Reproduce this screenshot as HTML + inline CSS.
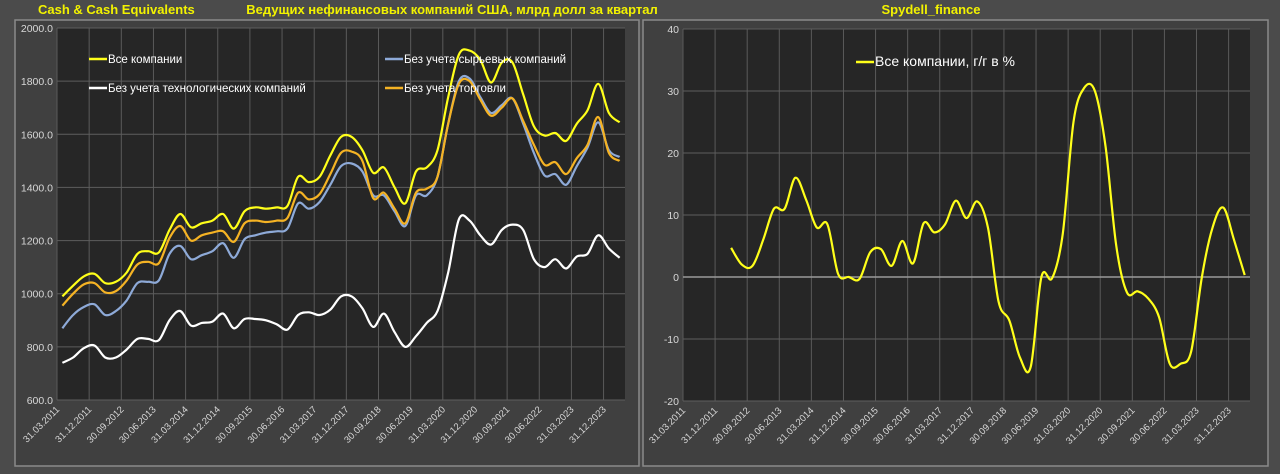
<!DOCTYPE html>
<html><head><meta charset="utf-8">
<style>
html,body{margin:0;padding:0;background:#4b4b4b;width:1280px;height:474px;overflow:hidden;font-family:"Liberation Sans",sans-serif;}
svg{display:block}
</style></head>
<body>
<svg id="chart" width="1280" height="474" xmlns="http://www.w3.org/2000/svg"></svg>
<script>
const categories = [];
for (let y = 2011; y <= 2024; y++) for (const q of ['31.03','30.06','30.09','31.12']) if (categories.length < 53) categories.push(q + '.' + y);
const allCompanies = [990,1030,1065,1075,1040,1045,1080,1150,1160,1155,1240,1300,1250,1265,1275,1300,1245,1310,1325,1320,1325,1330,1440,1420,1440,1520,1590,1590,1540,1455,1475,1400,1340,1460,1475,1540,1740,1900,1915,1880,1795,1870,1870,1750,1630,1595,1605,1575,1640,1690,1790,1680,1645];
const exCommodities = [870,920,950,960,920,935,975,1040,1045,1050,1150,1180,1130,1145,1160,1190,1135,1205,1220,1230,1235,1245,1340,1320,1345,1410,1480,1490,1460,1370,1370,1310,1255,1370,1370,1440,1640,1800,1810,1740,1680,1710,1735,1640,1530,1445,1450,1410,1480,1550,1645,1540,1515];
const exTrade = [955,1000,1035,1040,1005,1010,1050,1110,1120,1115,1210,1255,1200,1220,1230,1235,1195,1265,1275,1270,1275,1285,1380,1355,1375,1450,1530,1535,1500,1360,1380,1320,1265,1380,1395,1440,1640,1790,1800,1730,1670,1700,1735,1650,1560,1485,1495,1450,1510,1560,1665,1530,1500];
const exTech = [740,760,795,805,760,760,790,830,830,825,900,935,880,890,895,925,870,905,905,900,885,865,920,930,920,940,990,990,945,875,925,855,800,840,890,935,1080,1280,1275,1220,1185,1240,1260,1240,1130,1100,1130,1095,1140,1150,1220,1170,1135];
const yoyStart = 4;
const yoy = [4.7,2.0,1.8,6,11,11,16,12.5,8,8.5,0.5,0,-0.3,4,4.5,1.8,5.8,2.2,8.7,7.2,8.5,12.3,9.5,12.2,8,-4,-7,-13,-14.5,0,-0.2,7,25,30.5,30,21,5,-2.5,-2.3,-3.5,-6.5,-14,-14,-12,0,8,11.2,6,0.3];
const leftTicks = [600,800,1000,1200,1400,1600,1800,2000];
const rightTicks = [-20,-10,0,10,20,30,40];

const NS = 'http://www.w3.org/2000/svg';
const svg = document.getElementById('chart');
function mk(tag, attrs, parent) {
  const e = document.createElementNS(NS, tag);
  for (const k in attrs) e.setAttribute(k, attrs[k]);
  (parent || svg).appendChild(e);
  return e;
}
function smooth(pts) {
  let d = 'M' + pts[0][0].toFixed(1) + ',' + pts[0][1].toFixed(1);
  for (let i = 0; i < pts.length - 1; i++) {
    const p0 = pts[i - 1] || pts[i], p1 = pts[i], p2 = pts[i + 1], p3 = pts[i + 2] || p2;
    const c1 = [p1[0] + (p2[0] - p0[0]) / 6, p1[1] + (p2[1] - p0[1]) / 6];
    const c2 = [p2[0] - (p3[0] - p1[0]) / 6, p2[1] - (p3[1] - p1[1]) / 6];
    d += 'C' + c1.map(v => v.toFixed(1)).join(',') + ' ' + c2.map(v => v.toFixed(1)).join(',') + ' ' + p2[0].toFixed(1) + ',' + p2[1].toFixed(1);
  }
  return d;
}

// panels
const p1 = mk('rect', {x: 15, y: 20, width: 624, height: 446, fill: '#404040', stroke: '#8a8a8a', 'stroke-width': 1.5});


const p2 = mk('rect', {x: 643, y: 20, width: 625, height: 446, fill: '#404040', stroke: '#8a8a8a', 'stroke-width': 1.5});



function title(x, y, txt, anchor, name) {
  const t = mk('text', {x: x, y: y, fill: '#f2f200', 'font-size': 13, 'font-weight': 'bold', 'text-anchor': anchor});
  t.textContent = txt;
  
  
}
title(38, 14, 'Cash & Cash Equivalents', 'start', 'left-title');
title(452, 14, 'Ведущих нефинансовых компаний США, млрд долл за квартал', 'middle', 'left-subtitle');
title(931, 14, 'Spydell_finance', 'middle', 'right-title');

function chart(cfg) {
  const {x0, x1, y0, y1, vmin, vmax, ticks, fmt, prefix} = cfg;
  const n = categories.length, bw = (x1 - x0) / n;
  const X = i => x0 + (i + 0.5) * bw;
  const Y = v => y1 - (v - vmin) / (vmax - vmin) * (y1 - y0);
  const bg = mk('rect', {x: x0, y: y0, width: x1 - x0, height: y1 - y0, fill: '#262626'});
  
  
  for (let i = 0; i <= n; i += 3) {
    const gx = x0 + i * bw;
    const g = mk('line', {x1: gx, x2: gx, y1: y0, y2: y1, stroke: '#5a5a5a', 'stroke-width': 1});
    
    
    if (i < n) {
      const t = mk('text', {x: 0, y: 0, fill: '#d8d8d8', 'font-size': 9.5, 'text-anchor': 'end', transform: `translate(${gx + 3},${y1 + 10}) rotate(-45)`});
      t.textContent = categories[i];
      
      
    }
  }
  ticks.forEach(v => {
    const gy = Y(v);
    const g = mk('line', {x1: x0, x2: x1, y1: gy, y2: gy, stroke: v === 0 && prefix === 'right' ? '#9a9a9a' : '#5e5e5e', 'stroke-width': v === 0 && prefix === 'right' ? 1.5 : 1});
    
    
    const t = mk('text', {x: x0 - 4, y: gy + 4, fill: '#d8d8d8', 'font-size': 10.5, 'text-anchor': 'end'});
    t.textContent = fmt(v);
    
    
  });
  return {X, Y};
}

const L = chart({x0: 57, x1: 625, y0: 28, y1: 400, vmin: 600, vmax: 2000, ticks: leftTicks, fmt: v => v.toFixed(1), prefix: 'left'});
function series(ax, data, start, color, name) {
  const pts = data.map((v, i) => [ax.X(i + start), ax.Y(v)]);
  const p = mk('path', {d: smooth(pts), fill: 'none', stroke: color, 'stroke-width': 2.2, 'stroke-linejoin': 'round'});
  
  
}
series(L, exTech, 0, '#ffffff', 'line-ex-tech');
series(L, exCommodities, 0, '#8eaad8', 'line-ex-commodities');
series(L, exTrade, 0, '#f5b324', 'line-ex-trade');
series(L, allCompanies, 0, '#ffff1a', 'line-all-companies');

function legend(x, y, color, txt, name, fs) {
  const g = mk('g', {});
  
  
  mk('line', {x1: x, x2: x + 18, y1: y, y2: y, stroke: color, 'stroke-width': 2.5}, g);
  const t = mk('text', {x: x + 19, y: y + 4, fill: '#ffffff', 'font-size': fs}, g);
  t.textContent = txt;
}
legend(89, 59, '#ffff1a', 'Все компании', 'legend-all-companies', 11.5);
legend(385, 59, '#8eaad8', 'Без учета сырьевых компаний', 'legend-ex-commodities', 11.5);
legend(89, 88, '#ffffff', 'Без учета технологических компаний', 'legend-ex-tech', 11.5);
legend(385, 88, '#f5b324', 'Без учета торговли', 'legend-ex-trade', 11.5);

const R = chart({x0: 683, x1: 1250, y0: 29, y1: 401, vmin: -20, vmax: 40, ticks: rightTicks, fmt: v => String(v), prefix: 'right'});
series(R, yoy, yoyStart, '#ffff1a', 'line-yoy');
legend(856, 62, '#ffff1a', 'Все компании, г/г в %', 'legend-yoy', 14);
</script>
</body></html>
